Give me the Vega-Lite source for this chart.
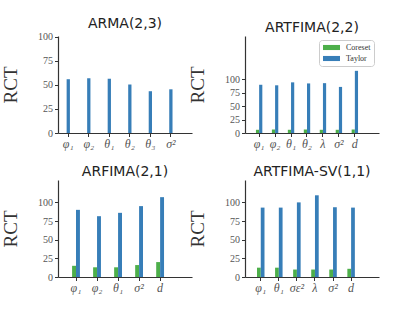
{
  "$schema": "https://vega.github.io/schema/vega-lite/v6.json",
  "background": "white",
  "padding": {"left": 1, "top": 16, "right": 5, "bottom": 5},
  "datasets": {
    "rct": [
      {"model": "ARMA(2,3)", "param": "φ₁", "series": "Taylor", "value": 56},
      {"model": "ARMA(2,3)", "param": "φ₂", "series": "Taylor", "value": 57},
      {"model": "ARMA(2,3)", "param": "θ₁", "series": "Taylor", "value": 56.5},
      {"model": "ARMA(2,3)", "param": "θ₂", "series": "Taylor", "value": 50.5},
      {"model": "ARMA(2,3)", "param": "θ₃", "series": "Taylor", "value": 43.5},
      {"model": "ARMA(2,3)", "param": "σ²", "series": "Taylor", "value": 45.5},
      {"model": "ARTFIMA(2,2)", "param": "φ₁", "series": "Coreset", "value": 6},
      {"model": "ARTFIMA(2,2)", "param": "φ₂", "series": "Coreset", "value": 6.5},
      {"model": "ARTFIMA(2,2)", "param": "θ₁", "series": "Coreset", "value": 6},
      {"model": "ARTFIMA(2,2)", "param": "θ₂", "series": "Coreset", "value": 6.5},
      {"model": "ARTFIMA(2,2)", "param": "λ", "series": "Coreset", "value": 6},
      {"model": "ARTFIMA(2,2)", "param": "σ²", "series": "Coreset", "value": 6},
      {"model": "ARTFIMA(2,2)", "param": "d", "series": "Coreset", "value": 6.5},
      {"model": "ARTFIMA(2,2)", "param": "φ₁", "series": "Taylor", "value": 90},
      {"model": "ARTFIMA(2,2)", "param": "φ₂", "series": "Taylor", "value": 89},
      {"model": "ARTFIMA(2,2)", "param": "θ₁", "series": "Taylor", "value": 94.5},
      {"model": "ARTFIMA(2,2)", "param": "θ₂", "series": "Taylor", "value": 92.5},
      {"model": "ARTFIMA(2,2)", "param": "λ", "series": "Taylor", "value": 93},
      {"model": "ARTFIMA(2,2)", "param": "σ²", "series": "Taylor", "value": 86},
      {"model": "ARTFIMA(2,2)", "param": "d", "series": "Taylor", "value": 116},
      {"model": "ARFIMA(2,1)", "param": "φ₁", "series": "Coreset", "value": 15},
      {"model": "ARFIMA(2,1)", "param": "φ₂", "series": "Coreset", "value": 13},
      {"model": "ARFIMA(2,1)", "param": "θ₁", "series": "Coreset", "value": 13},
      {"model": "ARFIMA(2,1)", "param": "σ²", "series": "Coreset", "value": 16},
      {"model": "ARFIMA(2,1)", "param": "d", "series": "Coreset", "value": 20},
      {"model": "ARFIMA(2,1)", "param": "φ₁", "series": "Taylor", "value": 90},
      {"model": "ARFIMA(2,1)", "param": "φ₂", "series": "Taylor", "value": 81.5},
      {"model": "ARFIMA(2,1)", "param": "θ₁", "series": "Taylor", "value": 86},
      {"model": "ARFIMA(2,1)", "param": "σ²", "series": "Taylor", "value": 95},
      {"model": "ARFIMA(2,1)", "param": "d", "series": "Taylor", "value": 107},
      {"model": "ARTFIMA-SV(1,1)", "param": "φ₁", "series": "Coreset", "value": 12.5},
      {"model": "ARTFIMA-SV(1,1)", "param": "θ₁", "series": "Coreset", "value": 12.5},
      {"model": "ARTFIMA-SV(1,1)", "param": "σε²", "series": "Coreset", "value": 10},
      {"model": "ARTFIMA-SV(1,1)", "param": "λ", "series": "Coreset", "value": 10},
      {"model": "ARTFIMA-SV(1,1)", "param": "σ²", "series": "Coreset", "value": 10},
      {"model": "ARTFIMA-SV(1,1)", "param": "d", "series": "Coreset", "value": 11},
      {"model": "ARTFIMA-SV(1,1)", "param": "φ₁", "series": "Taylor", "value": 93},
      {"model": "ARTFIMA-SV(1,1)", "param": "θ₁", "series": "Taylor", "value": 93},
      {"model": "ARTFIMA-SV(1,1)", "param": "σε²", "series": "Taylor", "value": 100},
      {"model": "ARTFIMA-SV(1,1)", "param": "λ", "series": "Taylor", "value": 109.5},
      {"model": "ARTFIMA-SV(1,1)", "param": "σ²", "series": "Taylor", "value": 93.5},
      {"model": "ARTFIMA-SV(1,1)", "param": "d", "series": "Taylor", "value": 93}
    ]
  },
  "data": {"name": "rct"},
  "columns": 2,
  "spacing": {"row": 47, "column": 53},
  "bounds": "flush",
  "resolve": {
    "scale": {"x": "independent", "y": "independent", "color": "independent", "xOffset": "independent"},
    "legend": {"color": "independent"}
  },
  "concat": [
    {
      "title": "ARMA(2,3)",
      "width": 134,
      "height": 97,
      "transform": [{"filter": "datum.model === 'ARMA(2,3)'"}],
      "mark": {"type": "bar"},
      "encoding": {
        "x": {"field": "param", "type": "nominal", "sort": ["φ₁", "φ₂", "θ₁", "θ₂", "θ₃", "σ²"],
              "scale": {"paddingInner": 0.84, "paddingOuter": 0.685, "align": 0.307},
              "axis": {"title": null, "labelAngle": 0}},
        "y": {"field": "value", "type": "quantitative", "scale": {"domain": [0, 101], "nice": false},
              "axis": {"title": "RCT", "values": [0, 25, 50, 75, 100]}},
        "color": {"field": "series", "type": "nominal",
                  "scale": {"domain": ["Coreset", "Taylor"], "range": ["#4daf4a", "#377eb8"]}, "legend": null}
      }
    },
    {
      "title": "ARTFIMA(2,2)",
      "width": 134,
      "height": 97,
      "transform": [{"filter": "datum.model === 'ARTFIMA(2,2)'"}],
      "mark": {"type": "bar"},
      "encoding": {
        "x": {"field": "param", "type": "nominal", "sort": ["φ₁", "φ₂", "θ₁", "θ₂", "λ", "σ²", "d"],
              "scale": {"paddingInner": 0.6, "paddingOuter": 1.27, "align": 0.343},
              "axis": {"title": null, "labelAngle": 0}},
        "xOffset": {"field": "series", "type": "nominal", "scale": {"domain": ["Coreset", "Taylor"]}},
        "y": {"field": "value", "type": "quantitative", "scale": {"domain": [0, 181], "nice": false},
              "axis": {"title": "RCT", "values": [0, 25, 50, 75, 100]}},
        "color": {"field": "series", "type": "nominal",
                  "scale": {"domain": ["Coreset", "Taylor"], "range": ["#4daf4a", "#377eb8"]},
                  "legend": {"title": null, "orient": "none", "legendX": 74, "legendY": 4}}
      }
    },
    {
      "title": "ARFIMA(2,1)",
      "width": 134,
      "height": 97,
      "transform": [{"filter": "datum.model === 'ARFIMA(2,1)'"}],
      "mark": {"type": "bar"},
      "encoding": {
        "x": {"field": "param", "type": "nominal", "sort": ["φ₁", "φ₂", "θ₁", "σ²", "d"],
              "scale": {"paddingInner": 0.627, "paddingOuter": 1.394, "align": 0.335},
              "axis": {"title": null, "labelAngle": 0}},
        "xOffset": {"field": "series", "type": "nominal", "scale": {"domain": ["Coreset", "Taylor"]}},
        "y": {"field": "value", "type": "quantitative", "scale": {"domain": [0, 130], "nice": false},
              "axis": {"title": "RCT", "values": [0, 25, 50, 75, 100]}},
        "color": {"field": "series", "type": "nominal",
                  "scale": {"domain": ["Coreset", "Taylor"], "range": ["#4daf4a", "#377eb8"]}, "legend": null}
      }
    },
    {
      "title": "ARTFIMA-SV(1,1)",
      "width": 134,
      "height": 97,
      "transform": [{"filter": "datum.model === 'ARTFIMA-SV(1,1)'"}],
      "mark": {"type": "bar"},
      "encoding": {
        "x": {"field": "param", "type": "nominal", "sort": ["φ₁", "θ₁", "σε²", "λ", "σ²", "d"],
              "scale": {"paddingInner": 0.585, "paddingOuter": 1.27, "align": 0.332},
              "axis": {"title": null, "labelAngle": 0}},
        "xOffset": {"field": "series", "type": "nominal", "scale": {"domain": ["Coreset", "Taylor"]}},
        "y": {"field": "value", "type": "quantitative", "scale": {"domain": [0, 130], "nice": false},
              "axis": {"title": "RCT", "values": [0, 25, 50, 75, 100]}},
        "color": {"field": "series", "type": "nominal",
                  "scale": {"domain": ["Coreset", "Taylor"], "range": ["#4daf4a", "#377eb8"]}, "legend": null}
      }
    }
  ],
  "config": {
    "view": {"stroke": null},
    "title": {"font": "DejaVu Sans", "fontSize": 14, "fontWeight": "normal", "color": "#222", "anchor": "middle", "offset": 1},
    "axis": {
      "grid": false,
      "domainColor": "#333",
      "domainWidth": 1.2,
      "tickColor": "#333",
      "tickSize": 3.5,
      "labelPadding": 2,
      "labelFont": "Liberation Serif",
      "labelFontSize": 10,
      "labelColor": "#555",
      "titleFont": "Liberation Serif",
      "titleFontSize": 19,
      "titleFontWeight": "normal",
      "titleColor": "#333",
      "titlePadding": 17
    },
    "axisX": {"labelFontStyle": "italic", "labelFontSize": 12},
    "legend": {
      "labelFont": "Liberation Serif",
      "labelFontSize": 8,
      "labelColor": "#333",
      "symbolType": "M-2,-0.6H2V0.6H-2Z",
      "symbolSize": 72,
      "symbolStrokeWidth": 0,
      "symbolOffset": 5,
      "labelOffset": 10,
      "rowPadding": 2,
      "padding": 3,
      "strokeColor": "#ccc",
      "fillColor": "white",
      "cornerRadius": 3
    }
  }
}
